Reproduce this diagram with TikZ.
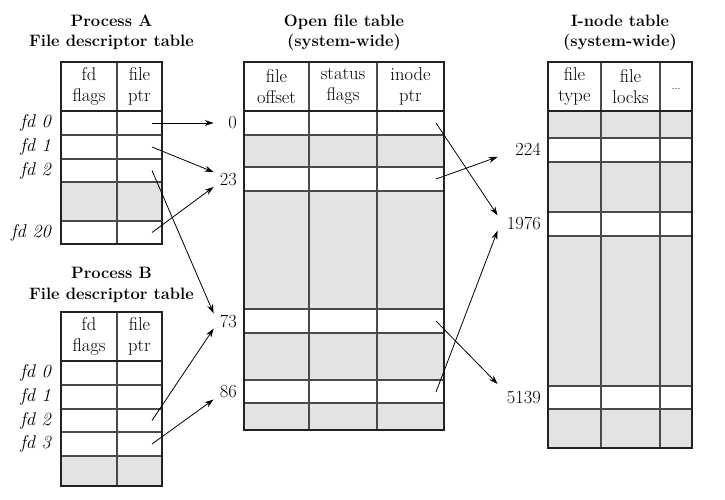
\documentclass[tikz,border=0pt]{standalone}
\usetikzlibrary{arrows.meta}
\definecolor{cellgray}{HTML}{E3E3E3}
\definecolor{rulec}{HTML}{222222}
\definecolor{innerc}{HTML}{4A4A4A}
\begin{document}
\begin{tikzpicture}[x=1pt,y=-1pt,
  body/.style={font=\fontsize{18.5}{21}\selectfont, inner sep=0pt, align=center},
  ttl/.style={font=\fontsize{16.5}{20.5}\selectfont\bfseries, inner sep=0pt, align=center},
  fdlab/.style={font=\fontsize{18.5}{21}\selectfont\itshape, inner sep=0pt, anchor=east},
  numA/.style={font=\fontsize{18.5}{21}\selectfont, inner sep=1pt, text width=22pt, align=right, anchor=east},
  numB/.style={font=\fontsize{18.5}{21}\selectfont, inner sep=1pt, text width=42pt, align=right, anchor=east},
  border/.style={draw=rulec, line width=2pt},
  hline/.style={draw=innerc, line width=1.1pt},
  vline/.style={draw=innerc, line width=1.2pt},
  arr/.style={-{Stealth[length=9pt,width=6pt]}, line width=0.8pt, draw=black},
]
\useasboundingbox (0,0) rectangle (725,499);

% ---------- Process A table ----------
\fill[cellgray] (61,182) rectangle (162,221);
\foreach \y in {135,159,182,221} \draw[hline] (61,\y) -- (162,\y);
\draw[vline] (117,62) -- (117,244);
\draw[border] (61,111) -- (162,111);
\draw[border] (61,62) rectangle (162,244);
\node[ttl] (tA) at (111.5,32.5) {Process A\\File descriptor table};
\node[body] (hAf) at (89,86.5) {fd\\flags};
\node[body] (hAp) at (139.5,86.5) {file\\ptr};
\node[fdlab] (fA0) at (51,123) {fd 0};
\node[fdlab] (fA1) at (51,147) {fd 1};
\node[fdlab] (fA2) at (51,170.5) {fd 2};
\node[fdlab] (fA20) at (51,232.5) {fd 20};
\coordinate (pA0) at (152,123);
\coordinate (pA1) at (152,147);
\coordinate (pA2) at (152,170.5);
\coordinate (pA20) at (152,232.5);

% ---------- Process B table ----------
\fill[cellgray] (61,456) rectangle (162,486);
\foreach \y in {385,409,432,456} \draw[hline] (61,\y) -- (162,\y);
\draw[vline] (117,312) -- (117,486);
\draw[border] (61,361) -- (162,361);
\draw[border] (61,312) rectangle (162,486);
\node[ttl] (tB) at (111.5,285) {Process B\\File descriptor table};
\node[body] (hBf) at (89,336.5) {fd\\flags};
\node[body] (hBp) at (139.5,336.5) {file\\ptr};
\node[fdlab] (fB0) at (51,373) {fd 0};
\node[fdlab] (fB1) at (51,397) {fd 1};
\node[fdlab] (fB2) at (51,420.5) {fd 2};
\node[fdlab] (fB3) at (51,444) {fd 3};
\coordinate (pB2) at (152,420.5);
\coordinate (pB3) at (152,444);

% ---------- Open file table ----------
\fill[cellgray] (244,135) rectangle (444,167);
\fill[cellgray] (244,191) rectangle (444,309);
\fill[cellgray] (244,333) rectangle (444,380);
\fill[cellgray] (244,403) rectangle (444,430);
\foreach \y in {135,167,191,309,333,380,403} \draw[hline] (244,\y) -- (444,\y);
\draw[vline] (309,62) -- (309,430);
\draw[vline] (377,62) -- (377,430);
\draw[border] (244,111) -- (444,111);
\draw[border] (244,62) rectangle (444,430);
\node[ttl] (tO) at (344,33) {Open file table\\(system-wide)};
\node[body] (hOo) at (276.5,86.5) {file\\offset};
\node[body] (hOs) at (343,86.5) {status\\flags};
\node[body] (hOi) at (410.5,86.5) {inode\\ptr};
\node[numA] (l0) at (238,123) {0};
\node[numA] (l23) at (238,179.5) {23};
\node[numA] (l73) at (238,321) {73};
\node[numA] (l86) at (238,392) {86};
\coordinate (o0) at (436,123);
\coordinate (o23) at (436,179);
\coordinate (o73) at (436,321);
\coordinate (o86) at (436,392);

% ---------- I-node table ----------
\fill[cellgray] (548,111) rectangle (692,138);
\fill[cellgray] (548,162) rectangle (692,212);
\fill[cellgray] (548,236) rectangle (692,386);
\fill[cellgray] (548,409) rectangle (692,448);
\foreach \y in {138,162,212,236,386,409} \draw[hline] (548,\y) -- (692,\y);
\draw[vline] (601,62) -- (601,448);
\draw[vline] (660,62) -- (660,448);
\draw[border] (548,111) -- (692,111);
\draw[border] (548,62) rectangle (692,448);
\node[ttl] (tI) at (620,33) {I-node table\\(system-wide)};
\node[body] (hIt) at (574.5,86.5) {file\\type};
\node[body] (hIl) at (630.5,86.5) {file\\locks};
\node[body, font=\fontsize{11}{13}\selectfont] (hId) at (676,89) {...};
\node[numB] (l224) at (542,149.5) {224};
\node[numB] (l1976) at (542,223) {1976};
\node[numB] (l5139) at (542,397.5) {5139};

% ---------- connectors ----------
\draw[arr] (pA0) -- (l0.west);
\draw[arr] (pA1) -- (l23.north west);
\draw[arr] (pA20) -- (l23.south west);
\draw[arr] (pA2) -- (l73.north west);
\draw[arr] (pB2) -- (l73.south west);
\draw[arr] (pB3) -- (l86.south west);
\draw[arr] (o0) -- (l1976.north west);
\draw[arr] (o23) -- (l224.south west);
\draw[arr] (o73) -- ([yshift=6pt]l5139.north west);
\draw[arr] (o86) -- (l1976.south west);
\end{tikzpicture}
\end{document}
